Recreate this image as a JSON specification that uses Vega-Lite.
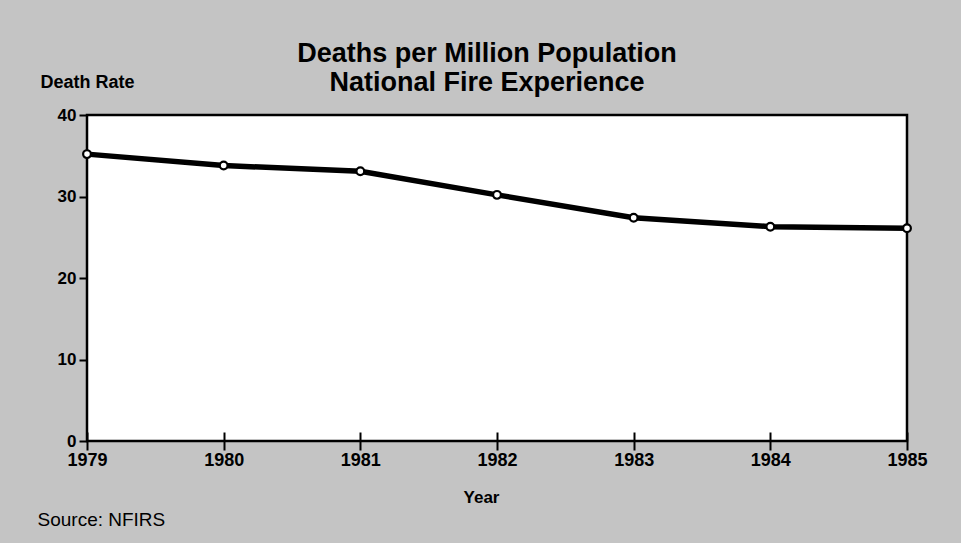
{
  "$schema": "https://vega.github.io/schema/vega-lite/v6.json",
  "autosize": {"type": "none"},
  "width": 820,
  "height": 326,
  "padding": {"left": 87, "top": 115, "right": 54, "bottom": 102},
  "background": "#c4c4c4",
  "config": {
    "view": {"fill": "white", "stroke": "black", "strokeWidth": 2.5},
    "font": "Liberation Sans"
  },
  "title": {
    "text": ["Deaths per Million Population", "National Fire Experience"],
    "font": "Liberation Sans",
    "fontSize": 27,
    "fontWeight": "bold",
    "color": "black",
    "anchor": "middle",
    "frame": "group",
    "baseline": "alphabetic",
    "dx": -10,
    "dy": 68,
    "offset": 23,
    "lineHeight": 29
  },
  "data": {
    "values": [
      {"year": 1979, "rate": 35.2},
      {"year": 1980, "rate": 33.8},
      {"year": 1981, "rate": 33.1},
      {"year": 1982, "rate": 30.2},
      {"year": 1983, "rate": 27.4},
      {"year": 1984, "rate": 26.3},
      {"year": 1985, "rate": 26.1}
    ]
  },
  "layer": [
    {
      "mark": {"type": "line", "color": "black", "strokeWidth": 5.5},
      "encoding": {
        "x": {
          "field": "year", "type": "quantitative",
          "scale": {"domain": [1979, 1985], "nice": false, "zero": false},
          "axis": {
            "orient": "bottom",
            "values": [1979, 1980, 1981, 1982, 1983, 1984, 1985],
            "format": "d",
            "grid": false,
            "domain": false,
            "tickSize": 9,
            "tickWidth": 2,
            "tickColor": "black",
            "labelFont": "Liberation Sans",
            "labelFontSize": 18,
            "labelFontWeight": "bold",
            "labelColor": "black",
            "labelPadding": 1,
            "labelFlush": false,
            "title": "Year",
            "titleFont": "Liberation Sans",
            "titleFontSize": 17,
            "titleFontWeight": "bold",
            "titleColor": "black",
            "titleX": 394,
            "titleY": 61,
            "titleAlign": "center",
            "titleBaseline": "alphabetic"
          }
        },
        "y": {
          "field": "rate", "type": "quantitative",
          "scale": {"domain": [0, 40], "nice": false},
          "axis": {
            "values": [0, 10, 20, 30, 40],
            "grid": false,
            "domain": false,
            "tickSize": 8,
            "tickWidth": 2,
            "tickColor": "black",
            "labelFont": "Liberation Sans",
            "labelFontSize": 17,
            "labelFontWeight": "bold",
            "labelColor": "black",
            "labelPadding": 3,
            "labelFlush": false,
            "title": "Death Rate",
            "titleFont": "Liberation Sans",
            "titleFontSize": 18,
            "titleFontWeight": "bold",
            "titleColor": "black",
            "titleAngle": 0,
            "titleX": -47,
            "titleY": -28,
            "titleAlign": "left",
            "titleBaseline": "alphabetic"
          }
        }
      }
    },
    {
      "mark": {"type": "point", "shape": "circle", "filled": true, "fill": "white", "stroke": "black", "strokeWidth": 2.2, "size": 60, "opacity": 1},
      "encoding": {
        "x": {
          "field": "year", "type": "quantitative",
          "scale": {"domain": [1979, 1985], "nice": false, "zero": false},
          "axis": {
            "orient": "bottom",
            "values": [1979, 1980, 1981, 1982, 1983, 1984, 1985],
            "grid": false,
            "domain": false,
            "labels": false,
            "tickSize": -9,
            "tickWidth": 2,
            "tickColor": "black",
            "title": "Source: NFIRS",
            "titleFont": "Liberation Sans",
            "titleFontSize": 19,
            "titleFontWeight": "normal",
            "titleColor": "black",
            "titleX": -50,
            "titleY": 84,
            "titleAlign": "left",
            "titleBaseline": "alphabetic"
          }
        },
        "y": {
          "field": "rate", "type": "quantitative",
          "scale": {"domain": [0, 40], "nice": false}
        }
      }
    }
  ],
  "resolve": {"axis": {"x": "independent"}}
}
